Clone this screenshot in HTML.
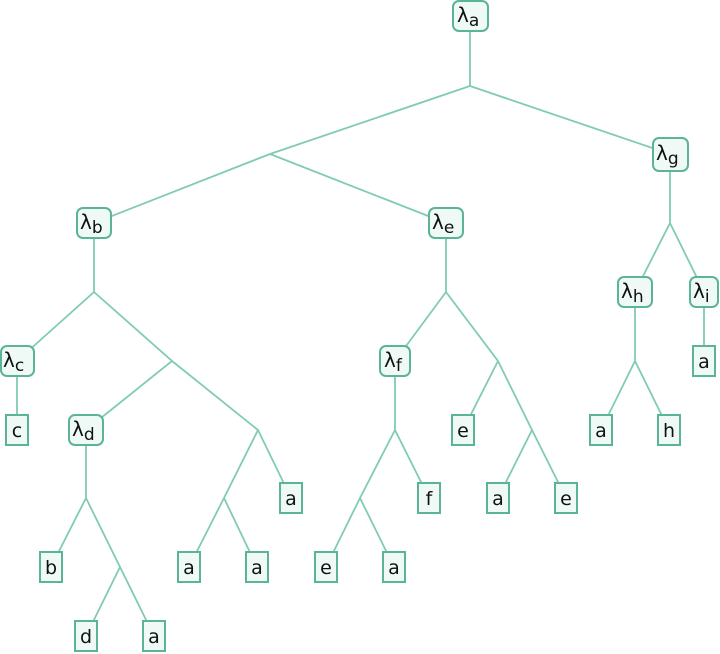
<!DOCTYPE html>
<html><head><meta charset="utf-8"><style>
html,body{margin:0;padding:0;background:#fff;width:720px;height:654px;overflow:hidden}
svg text{font-family:"DejaVu Sans","Liberation Sans",sans-serif;fill:#111;font-size:19px}
svg text.l{font-size:20px}
svg tspan.s{font-size:17px}
</style></head><body>
<svg width="720" height="654" viewBox="0 0 720 654" xmlns="http://www.w3.org/2000/svg">
<g stroke="#80cbb5" stroke-width="1.8" fill="none">
<path d="M470 16V86M470 86L270 154M470 86L670 154M270 154L94 223M270 154L446 223"/>
<path d="M94 223V292L17 361M94 292L172 361L86 430M172 361L258 430L224 498L189 567M224 498L257 567M258 430L291 498"/>
<path d="M17 361V430M86 430V498L51 567M86 498L120 567L86 636M120 567L154 636"/>
<path d="M446 223V292L395 361M446 292L498 361L463 430M498 361L532 430L498 498M532 430L566 498"/>
<path d="M395 361V430L360 498L326 567M360 498L394 567M395 430L429 498"/>
<path d="M670 154V223L635 292M670 223L704 292V361M635 292V361L601 430M635 361L669 430"/>
</g>
<g stroke="#5bb595" stroke-width="2" fill="#effaf6">
<rect x="453" y="1" width="35" height="30" rx="6"/>
<rect x="77" y="208" width="34" height="30" rx="6"/>
<rect x="429" y="208" width="34" height="30" rx="6"/>
<rect x="653" y="138" width="35" height="33" rx="6"/>
<rect x="1" y="346" width="33" height="30" rx="6"/>
<rect x="69" y="415" width="34" height="30" rx="6"/>
<rect x="380" y="346" width="30" height="30" rx="6"/>
<rect x="618" y="277" width="34" height="30" rx="6"/>
<rect x="690" y="277" width="28" height="30" rx="6"/>
<rect x="6" y="415" width="22" height="30"/>
<rect x="40" y="552" width="22" height="30"/>
<rect x="75" y="621" width="22" height="30"/>
<rect x="143" y="621" width="22" height="30"/>
<rect x="178" y="552" width="22" height="30"/>
<rect x="246" y="552" width="22" height="30"/>
<rect x="280" y="483" width="22" height="30"/>
<rect x="315" y="552" width="22" height="30"/>
<rect x="383" y="552" width="22" height="30"/>
<rect x="418" y="483" width="22" height="30"/>
<rect x="452" y="415" width="22" height="30"/>
<rect x="487" y="483" width="22" height="30"/>
<rect x="555" y="483" width="22" height="30"/>
<rect x="590" y="415" width="22" height="30"/>
<rect x="658" y="415" width="22" height="30"/>
<rect x="693" y="346" width="22" height="30"/>
</g>
<g>
<text class="l" x="457" y="22">λ<tspan class="s" dy="4">a</tspan></text>
<text class="l" x="80" y="229">λ<tspan class="s" dy="4">b</tspan></text>
<text class="l" x="432" y="229">λ<tspan class="s" dy="4">e</tspan></text>
<text class="l" x="656" y="160">λ<tspan class="s" dy="4">g</tspan></text>
<text class="l" x="3" y="367">λ<tspan class="s" dy="4">c</tspan></text>
<text class="l" x="72" y="436">λ<tspan class="s" dy="4">d</tspan></text>
<text class="l" x="384" y="367">λ<tspan class="s" dy="4">f</tspan></text>
<text class="l" x="621" y="298">λ<tspan class="s" dy="4">h</tspan></text>
<text class="l" x="693" y="298">λ<tspan class="s" dy="4">i</tspan></text>
</g>
<g text-anchor="middle">
<text x="17" y="437">c</text>
<text x="51" y="574">b</text>
<text x="86" y="643">d</text>
<text x="154" y="643">a</text>
<text x="189" y="574">a</text>
<text x="257" y="574">a</text>
<text x="291" y="505">a</text>
<text x="326" y="574">e</text>
<text x="394" y="574">a</text>
<text x="429" y="505">f</text>
<text x="463" y="437">e</text>
<text x="498" y="505">a</text>
<text x="566" y="505">e</text>
<text x="601" y="437">a</text>
<text x="669" y="437">h</text>
<text x="704" y="368">a</text>
</g>
</svg>
</body></html>
